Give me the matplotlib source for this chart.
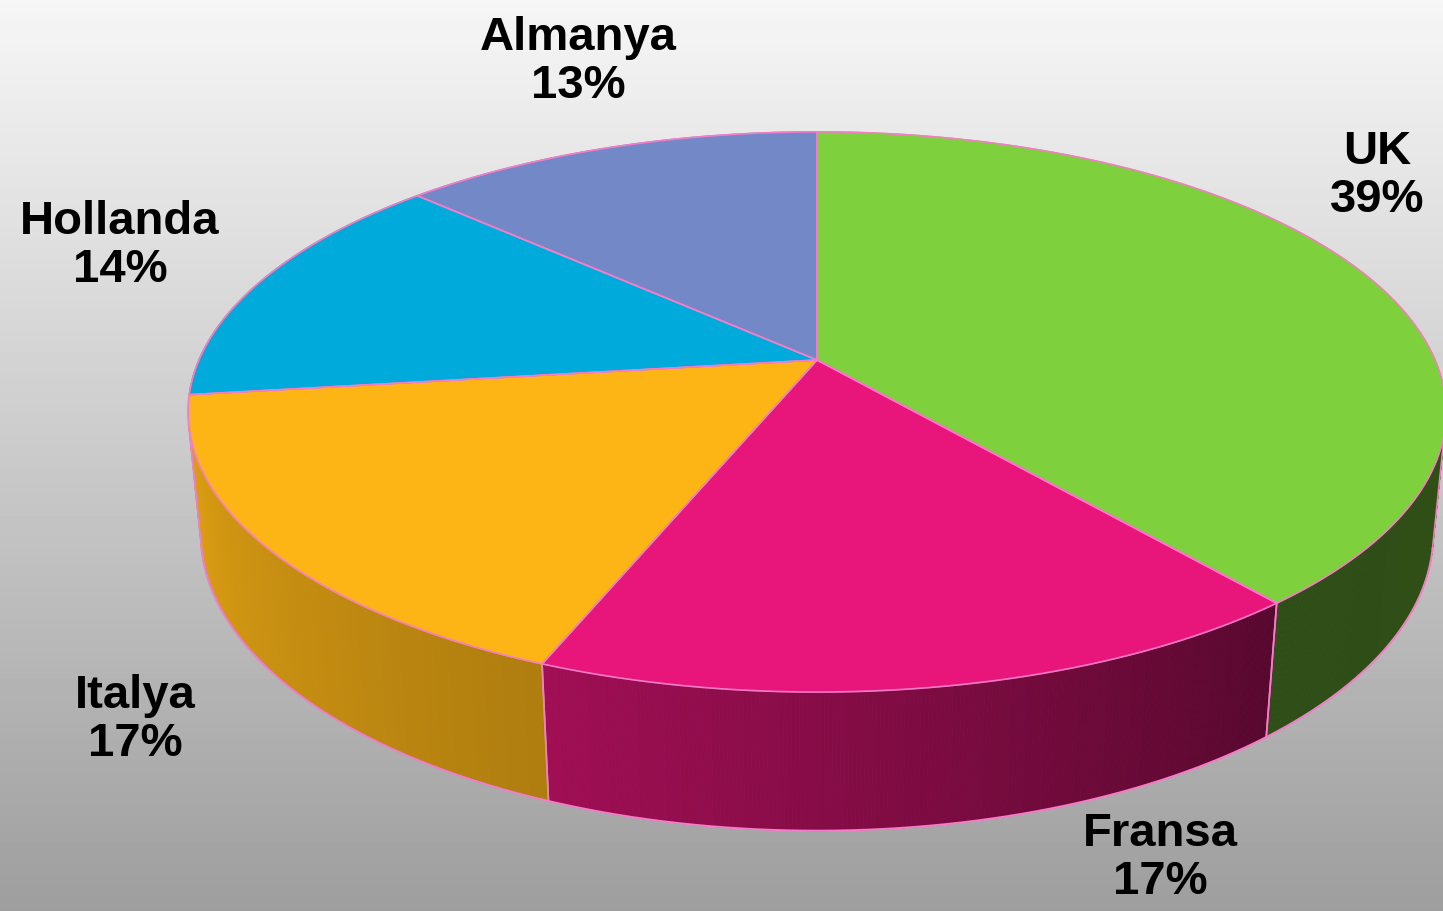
import numpy as np
import matplotlib.pyplot as plt
from matplotlib.collections import PolyCollection
from matplotlib.colors import to_rgb

# slice data (clockwise from 12 o'clock)
labels = ["UK", "Fransa", "Italya", "Hollanda", "Almanya"]
values = [39, 17, 17, 14, 13]
colors = ["#7ed03c", "#e8157a", "#fdb515", "#00aadb", "#7388c6"]

# label anchor (pixel coords, centre of the two-line text)
label_pos = [(1377, 176), (1160, 858), (135, 720), (120, 246), (578, 62)]

# perspective settings
CX, CY = 817, 361
F = 2995.0
D = 4.846
PHI = np.radians(25.95)
T = 0.22
EDGE = "#f47cc8"


def project(theta, h):
    x = np.sin(theta)
    z = -np.cos(theta)
    d = D - (z * np.cos(PHI) + h * np.sin(PHI))
    v = h * np.cos(PHI) - z * np.sin(PHI)
    return CX + x * F / d, CY - v * F / d


def side_shade(theta):
    # light comes from the left, walls get darker towards the right
    return np.interp(np.degrees(theta), [100, 140, 201, 258],
                     [0.38, 0.375, 0.69, 0.88])


fig = plt.figure(figsize=(14.43, 9.12), dpi=100)
ax = fig.add_axes([0, 0, 1, 1])
ax.set_xlim(0, 1443)
ax.set_ylim(912, 0)
ax.axis("off")

# background gradient
grad = np.linspace(0.965, 0.62, 256).reshape(-1, 1)
ax.imshow(grad, cmap="gray", vmin=0, vmax=1, aspect="auto",
          extent=[0, 1443, 912, 0], zorder=0)

total = float(sum(values))
bounds = np.cumsum([0] + values) / total * 2 * np.pi

# visible range of the outer wall
lim = np.arccos(-1.0 / (D * np.cos(PHI)))
vis_lo, vis_hi = lim, 2 * np.pi - lim

# side walls
for i, col in enumerate(colors):
    a0, a1 = max(bounds[i], vis_lo), min(bounds[i + 1], vis_hi)
    if a1 <= a0:
        continue
    ts = np.linspace(a0, a1, 200)
    polys, fcs = [], []
    base = np.array(to_rgb(col))
    for t0, t1 in zip(ts[:-1], ts[1:]):
        xa, ya = project(t0, 0)
        xb, yb = project(t1, 0)
        xc, yc = project(t1, -T)
        xd, yd = project(t0, -T)
        polys.append([(xa, ya), (xb, yb), (xc, yc), (xd, yd)])
        fcs.append(base * side_shade(0.5 * (t0 + t1)))
    ax.add_collection(PolyCollection(polys, facecolors=fcs, edgecolors=fcs,
                                     linewidths=0.6, zorder=2))
    # bottom rim and vertical edges
    bx, by = project(ts, -T)
    ax.plot(bx, by, color=EDGE, lw=1.4, zorder=3)
    for t in (a0, a1):
        x0, y0 = project(t, 0)
        x1, y1 = project(t, -T)
        ax.plot([x0, x1], [y0, y1], color=EDGE, lw=1.2, zorder=3)

# top faces
for i, col in enumerate(colors):
    ts = np.linspace(bounds[i], bounds[i + 1], 300)
    px, py = project(ts, 0)
    xs = np.concatenate([[CX], px])
    ys = np.concatenate([[CY], py])
    ax.fill(xs, ys, color=col, zorder=4)
    ax.plot(np.append(xs, CX), np.append(ys, CY), color=EDGE, lw=1.2, zorder=5)

# labels
for lab, val, (lx, ly) in zip(labels, values, label_pos):
    ax.text(lx, ly, f"{lab}\n{val}%", ha="center", va="center",
            fontsize=34, fontweight="bold", family="Liberation Sans",
            linespacing=1.12, color="black", zorder=6)

fig.savefig("out.png", dpi=100)
